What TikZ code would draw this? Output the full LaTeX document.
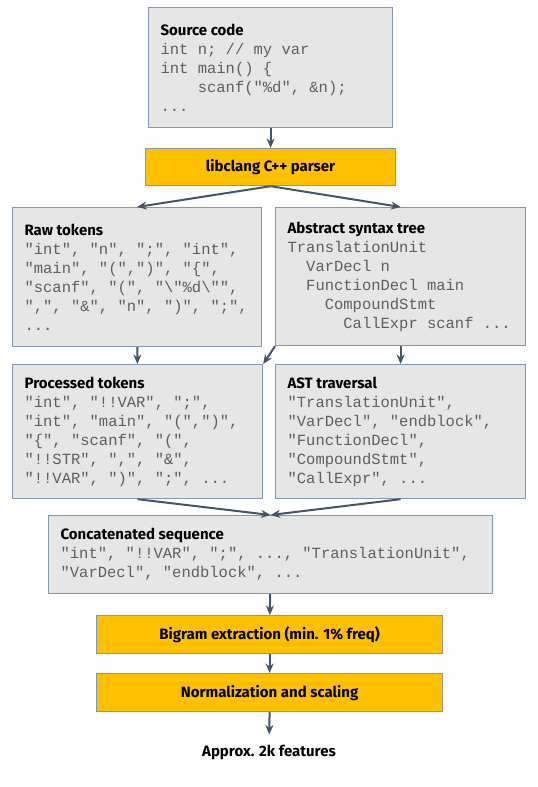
\documentclass[tikz,border=0pt]{standalone}
\usepackage{fontspec}
\setsansfont{Fira Sans}
\newfontfamily\codemono{Liberation Mono}
\usetikzlibrary{arrows.meta}
\definecolor{boxfill}{HTML}{E7E6E6}
\definecolor{boxline}{HTML}{8497B0}
\definecolor{orng}{HTML}{FFC000}
\definecolor{arr}{HTML}{44546A}
\definecolor{codegray}{HTML}{5F5F5F}
\newcommand{\ttl}[1]{{\fontsize{15}{19}\selectfont\sffamily\bfseries\spaceskip=0pt\xspaceskip=0pt\color{black}#1}}
\newcommand{\ind}[1]{\hphantom{#1}}
\newcommand{\codefont}{\fontsize{15.5}{19}\selectfont\codemono}
\begin{document}
\begin{tikzpicture}[x=1pt,y=-1pt,
  graybox/.style={draw=boxline, line width=1.2pt, fill=boxfill, anchor=north west, align=left,
    inner xsep=12pt, inner ysep=0pt, font=\codefont, text=codegray,
    execute at begin node={\spaceskip=0.6em\xspaceskip=0.6em\relax}},
  orangebox/.style={draw=boxline, line width=1.2pt, fill=orng, anchor=north west, align=center,
    inner sep=0pt, font=\fontsize{15}{18}\selectfont\sffamily\bfseries},
  flow/.style={draw=arr, line width=2pt, -{Stealth[length=9.5pt,width=8pt,inset=3pt]}}]
\useasboundingbox (0,0) rectangle (538,787);

\node[graybox, minimum width=244pt, minimum height=120pt, text width=220pt] (src) at (148,7)
  {\ttl{Source code}\\int n; // my var\\int main() \{\\\ind{xxxx}scanf("\%d", \&n);\\...};

\node[orangebox, minimum width=250pt, minimum height=37pt] (lib) at (145,148) {libclang C++ parser};

\node[graybox, minimum width=249pt, minimum height=139pt, text width=225pt] (raw) at (12,207)
  {\ttl{Raw tokens}\\"int", "n", ";", "int",\\"main", "(",")", "\{",\\"scanf", "(", "\textbackslash"\%d\textbackslash"",\\",", "\&", "n", ")", ";",\\...};

\node[graybox, minimum width=250pt, minimum height=138pt, text width=226pt] (ast) at (275,207)
  {\ttl{Abstract syntax tree}\\TranslationUnit\\\ind{xx}VarDecl n\\\ind{xx}FunctionDecl main\\\ind{xxxx}CompoundStmt\\\ind{xxxxxx}CallExpr scanf ...};

\node[graybox, minimum width=250pt, minimum height=134pt, text width=226pt] (proc) at (12,364)
  {\ttl{Processed tokens}\\"int", "!!VAR", ";",\\"int", "main", "(",")",\\"\{", "scanf", "(",\\"!!STR", ",", "\&",\\"!!VAR", ")", ";", ...};

\node[graybox, minimum width=250pt, minimum height=134pt, text width=226pt] (astt) at (275,364)
  {\ttl{AST traversal}\\"TranslationUnit",\\"VarDecl", "endblock",\\"FunctionDecl",\\"CompoundStmt",\\"CallExpr", ...};

\node[graybox, minimum width=440pt, minimum height=78pt, text width=420pt] (cat) at (48,515)
  {\ttl{Concatenated sequence}\\"int", "!!VAR", ";", ..., "TranslationUnit",\\"VarDecl", "endblock", ...};

\node[orangebox, minimum width=346pt, minimum height=38pt] (bigr) at (96,615) {Bigram extraction (min. 1\% freq)};
\node[orangebox, minimum width=346pt, minimum height=38pt] (norm) at (96,673) {Normalization and scaling};

\node[font=\fontsize{15}{18}\selectfont\sffamily\bfseries, inner sep=0pt] (feat) at (269,752) {Approx. 2k features};

\draw[flow] (src) -- (lib);
\draw[flow] (lib.south) -- (raw.north);
\draw[flow] (lib.south) -- (ast.north);
\draw[flow] (raw) -- (proc);
\draw[flow] (ast) -- (astt);
\draw[flow] (ast.south west) -- (proc.north east);
\draw[flow] (proc.south) -- (cat.north);
\draw[flow] (astt.south) -- (cat.north);
\draw[flow] (cat) -- (bigr);
\draw[flow] (bigr) -- (norm);
\draw[flow, shorten >=10pt] (norm.south) -- (feat.north);
\end{tikzpicture}
\end{document}
